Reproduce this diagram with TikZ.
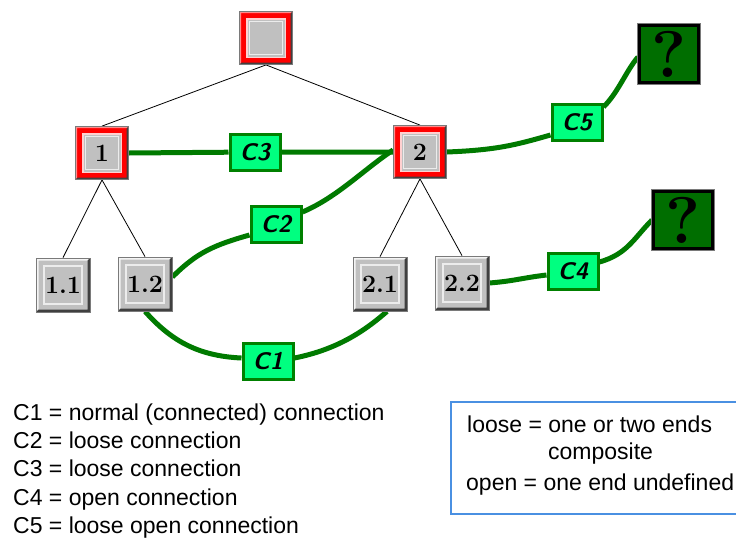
\documentclass[tikz,border=0pt]{standalone}
\usepackage{fontspec}
\usetikzlibrary{calc}
\newfontfamily\legendfont{Liberation Sans}

\definecolor{boxgray}{HTML}{C0C0C0}
\definecolor{bevhi}{HTML}{F4F4F4}
\definecolor{bevlo}{HTML}{404040}
\definecolor{edgegray}{HTML}{7A7A7A}
\definecolor{innerhi}{HTML}{ECECEC}
\definecolor{redhi}{HTML}{FF8C8C}
\definecolor{pinkline}{HTML}{FFD0D0}
\definecolor{linkgreen}{HTML}{007A00}
\definecolor{labfill}{HTML}{00FF80}
\definecolor{labedge}{HTML}{008000}
\definecolor{qgreen}{HTML}{006E00}
\definecolor{noteblue}{HTML}{4A90E2}

\pgfdeclarelayer{back}
\pgfsetlayers{back,main}

\tikzset{
  boxfont/.style={font=\bfseries\fontsize{25}{25}\selectfont},
  % raised grey part box
  graybox/.style={rectangle, inner sep=0pt, minimum size=54pt, fill=boxgray,
    draw=edgegray, line width=0.8pt, boxfont,
    path picture={
      \path (path picture bounding box.south west) coordinate (ppsw)
            (path picture bounding box.north east) coordinate (ppne);
      \fill[bevhi] (ppsw) -- (ppsw |- ppne) -- (ppne)
        -- ([shift={(-2.5pt,-2.5pt)}]ppne) -- ([shift={(2.5pt,-2.5pt)}]ppsw |- ppne)
        -- ([shift={(2.5pt,2.5pt)}]ppsw) -- cycle;
      \fill[bevlo] (ppsw) -- (ppsw -| ppne) -- (ppne)
        -- ([shift={(-2.5pt,-2.5pt)}]ppne) -- ([shift={(-2.5pt,2.5pt)}]ppsw -| ppne)
        -- ([shift={(2.5pt,2.5pt)}]ppsw) -- cycle;
      \draw[innerhi, line width=1.2pt] ([shift={(8pt,8pt)}]ppsw) rectangle ([shift={(-8pt,-8pt)}]ppne);
    }},
  % composite part box with red frame
  redbox/.style={rectangle, inner sep=0pt, minimum size=53pt, fill=red,
    draw=edgegray, line width=0.8pt, boxfont,
    path picture={
      \path (path picture bounding box.south west) coordinate (ppsw)
            (path picture bounding box.north east) coordinate (ppne);
      \fill[redhi] (ppsw) -- (ppsw |- ppne) -- (ppne)
        -- ([shift={(-1.5pt,-1.5pt)}]ppne) -- ([shift={(1.5pt,-1.5pt)}]ppsw |- ppne)
        -- ([shift={(1.5pt,1.5pt)}]ppsw) -- cycle;
      \fill[bevlo] (ppsw) -- (ppsw -| ppne) -- (ppne)
        -- ([shift={(-2pt,-2pt)}]ppne) -- ([shift={(-2pt,2pt)}]ppsw -| ppne)
        -- ([shift={(2pt,2pt)}]ppsw) -- cycle;
      \fill[pinkline] ([shift={(6.5pt,6.5pt)}]ppsw) rectangle ([shift={(-6.5pt,-6.5pt)}]ppne);
      \fill[boxgray] ([shift={(8pt,8pt)}]ppsw) rectangle ([shift={(-8pt,-8pt)}]ppne);
      \draw[innerhi, line width=1pt] ([shift={(10pt,10pt)}]ppsw) rectangle ([shift={(-10pt,-10pt)}]ppne);
    }},
  % undefined end
  qbox/.style={rectangle, inner sep=0pt, minimum width=59pt, minimum height=57pt,
    fill=qgreen, draw=black, line width=3pt,
    preaction={draw=edgegray, line width=5pt},
    font=\bfseries\fontsize{66}{66}\selectfont},
  % connection label
  conlabel/.style={rectangle, inner sep=0pt, minimum width=50pt, minimum height=36pt,
    fill=labfill, draw=labedge, line width=3pt,
    font=\sffamily\bfseries\itshape\fontsize{24}{24}\selectfont},
  treeline/.style={black, line width=0.8pt},
  link/.style={linkgreen, line width=5pt},
  legendtext/.style={font=\legendfont\fontsize{23}{23}\selectfont, inner sep=0pt,
    anchor=base west},
  notebox/.style={noteblue, line width=1.5pt},
}

\begin{document}
\begin{tikzpicture}[x=1pt, y=-1pt]
\useasboundingbox (0,0) rectangle (736,541);

% part hierarchy
\node[redbox]  (root) at (266,38)  {};
\node[redbox]  (n1)   at (102,153) {1};
\node[redbox]  (n2)   at (420,152) {2};
\node[graybox] (n11)  at (63,285)  {1.1};
\node[graybox] (n12)  at (145,284) {1.2};
\node[graybox] (n21)  at (380,284) {2.1};
\node[graybox] (n22)  at (462,283) {2.2};

% undefined ends
\node[qbox] (q1) at (669,54)  {?};
\node[qbox] (q2) at (683,220) {?};

% connection labels
\node[conlabel] (c1) at (268,361) {C1};
\node[conlabel] (c2) at (276,224) {C2};
\node[conlabel] (c3) at (255,152) {C3};
\node[conlabel] (c4) at (573,271) {C4};
\node[conlabel] (c5) at (577,122) {C5};

\begin{pgfonlayer}{back}
  % containment
  \draw[treeline] (root.south) -- (n1.north);
  \draw[treeline] (root.south) -- (n2.north);
  \draw[treeline] (n1.south) -- (n11.north);
  \draw[treeline] (n1.south) -- (n12.north);
  \draw[treeline] (n2.south) -- (n21.north);
  \draw[treeline] (n2.south) -- (n22.north);

  % connections
  \draw[link] (n12.south) .. controls +(25,28) and +(-45,-2) .. ([yshift=3pt]c1.west);
  \draw[link] ([yshift=3pt]c1.east) .. controls +(40,-8) and +(-25,22) .. ([xshift=7pt]n21.south);

  \draw[link] ([yshift=7pt]n12.east) .. controls +(25,-25) and +(-35,10) .. ([yshift=-11pt]c2.west);
  \draw[link] ([yshift=12pt]c2.east) .. controls +(35,-15) and +(-30,20) .. ([yshift=2pt]n2.west);

  \draw[link] (n1.east) -- (c3) -- (n2.west);

  \draw[link] (n2.east) .. controls +(50,-2) and +(-35,10) .. ([yshift=-13pt]c5.west);
  \draw[link] ([yshift=15pt]c5.east) .. controls +(15,-15) and +(-12,14) .. ([yshift=-3pt]q1.west);

  \draw[link] (n22.east) .. controls +(25,-2) and +(-25,3) .. ([yshift=-4pt]c4.west);
  \draw[link] ([yshift=9pt]c4.east) .. controls +(28,-8) and +(-18,18) .. (q2.west);
\end{pgfonlayer}

% legend
\node[legendtext] (leg1) at (13,420)   {C1 = normal (connected) connection};
\node[legendtext] (leg2) at (13,448.3) {C2 = loose connection};
\node[legendtext] (leg3) at (13,476.7) {C3 = loose connection};
\node[legendtext] (leg4) at (13,505)   {C4 = open connection};
\node[legendtext] (leg5) at (13,533.3) {C5 = loose open connection};

\draw[notebox] (745,402) -| (451,514) -- (745,514);
\node[legendtext] (loose) at (467,432) {loose = one or two ends};
\node[legendtext] (comp)  at (548,459) {composite};
\node[legendtext] (open)  at (466,490) {open = one end undefined};
\end{tikzpicture}
\end{document}
